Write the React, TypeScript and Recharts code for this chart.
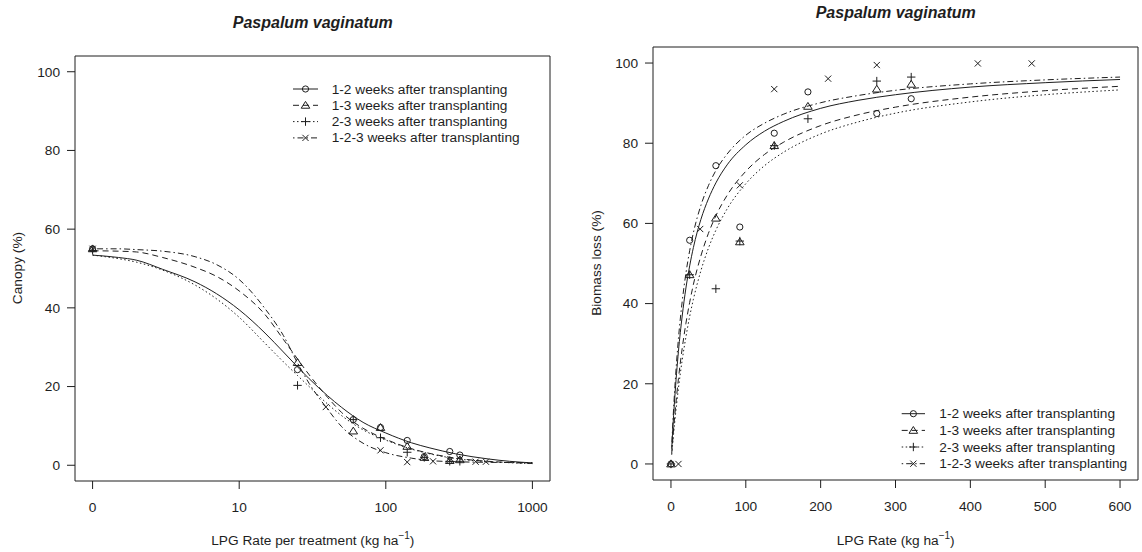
import React from 'react';
import { ComposedChart, Line, Scatter, XAxis, YAxis, ReferenceArea } from 'recharts';

// ---------- Left panel: Canopy (%) vs LPG rate per treatment (log axis, 0 drawn at the break) ----------
const leftDoses123 = [0, 25, 60, 92, 140, 183, 273, 320]; // shared by 1-2, 1-3, 2-3
const leftDosesCum = [0, 39, 92, 140, 210, 273, 410, 482]; // 1-2-3
const canopy12 = [55.0, 24.3, 11.6, 9.6, 6.3, 2.2, 3.5, 2.6];
const canopy13 = [55.0, 26.1, 8.7, 9.6, 4.8, 2.0, 1.2, 1.4];
const canopy23 = [54.6, 20.3, 11.6, 7.0, 3.3, 2.0, 1.0, 1.0];
const canopy123 = [55.0, 14.8, 3.8, 0.8, 1.0, 1.2, 0.9, 0.9];

const leftCurveDoses = [0, 1.5, 2, 3, 5, 7, 10, 15, 20, 25, 30, 40, 50, 70, 100, 150, 200, 300, 500, 700, 1000];
const canopyFit12 = [53.4, 52.8, 52.1, 49.8, 46.6, 43.6, 39.5, 33.6, 28.8, 25.0, 22.0, 17.7, 14.7, 10.9, 8.2, 5.7, 4.4, 2.9, 1.6, 1.0, 0.6];
const canopyFit13 = [54.5, 54.4, 54.2, 52.8, 50.3, 48.0, 44.3, 38.3, 32.0, 27.0, 23.0, 17.3, 13.4, 9.4, 6.6, 4.2, 3.0, 1.8, 1.0, 0.7, 0.45];
const canopyFit23 = [53.4, 52.5, 51.6, 49.6, 45.8, 42.3, 37.6, 31.0, 26.3, 22.8, 20.0, 15.6, 12.6, 9.0, 6.4, 4.1, 2.9, 1.7, 0.9, 0.65, 0.4];
const canopyFit123 = [55.0, 55.0, 54.8, 54.4, 53.0, 51.0, 47.2, 39.8, 33.0, 26.0, 20.8, 14.3, 9.8, 5.6, 3.2, 1.8, 1.2, 0.9, 0.75, 0.7, 0.7];

const leftTicks = [1, 10, 100, 1000];
const leftTickLabels = ['0', '10', '100', '1000'];

// ---------- Right panel: Biomass loss (%) vs LPG rate ----------
const rightDoses = [0, 25, 60, 92, 138, 183, 275, 321];
const rightDosesCum = [10, 39, 92, 138, 210, 275, 410, 482];
const biomass12 = [0, 55.8, 74.4, 59.1, 82.5, 92.8, 87.4, 91.1];
const biomass13 = [0, 47.2, 61.3, 55.4, 79.4, 89.2, 93.5, 94.7];
const biomass23 = [0, 47.2, 43.7, 55.6, 79.4, 86.1, 95.5, 96.5];
const biomass123 = [0, 58.6, 69.5, 93.5, 96.1, 99.5, 99.9, 99.9];

const rightCurveDoses = [1, 3, 5, 10, 15, 20, 25, 30, 40, 50, 60, 75, 100, 125, 150, 200, 250, 300, 400, 500, 600];
const biomassFit12 = [3.8, 10.5, 16.3, 28.1, 36.9, 43.9, 49.4, 54.0, 61.0, 66.1, 70.1, 74.6, 79.6, 83.0, 85.4, 88.7, 90.7, 92.1, 94.0, 95.1, 95.9];
const biomassFit13 = [2.6, 7.5, 11.9, 21.3, 28.8, 35.1, 40.3, 44.8, 51.9, 57.5, 61.9, 67.0, 73.0, 77.2, 80.2, 84.4, 87.1, 89.0, 91.5, 93.1, 94.2];
const biomassFit23 = [2.3, 6.5, 10.4, 18.9, 25.9, 31.7, 36.8, 41.1, 48.2, 53.8, 58.3, 63.6, 69.9, 74.4, 77.7, 82.3, 85.3, 87.5, 90.3, 92.1, 93.3];
const biomassFit123 = [4.3, 12.0, 18.5, 31.3, 40.5, 47.6, 53.2, 57.7, 64.5, 69.4, 73.2, 77.3, 82.0, 85.0, 87.2, 90.1, 91.9, 93.2, 94.8, 95.8, 96.5];

const rightTicks = [0, 100, 200, 300, 400, 500, 600];
const yTicks = [0, 20, 40, 60, 80, 100];

const seriesNames = [
  '1-2 weeks after transplanting',
  '1-3 weeks after transplanting',
  '2-3 weeks after transplanting',
  '1-2-3 weeks after transplanting',
];

// ---------- styles ----------
const FONT = '"Liberation Sans", Arial, Helvetica, sans-serif';
const INK = '#1e1e1e';
const FS = 13.7;
type MarkKind = 'circle' | 'triangle' | 'plus' | 'cross';
const marks: MarkKind[] = ['circle', 'triangle', 'plus', 'cross'];
const dashes: (string | undefined)[] = [undefined, '6 4', '1.5 2.5', '1.5 3 6 3'];

const Y_DOMAIN: [number, number] = [-4, 104];
const LEFT_X_DOMAIN: [number, number] = [0.7586, 1318.3];
const RIGHT_X_DOMAIN: [number, number] = [-24, 624];

function Mark({ kind, cx, cy }: { kind: MarkKind; cx?: number; cy?: number }) {
  if (cx == null || cy == null || isNaN(cx) || isNaN(cy)) return null;
  if (kind === 'circle') return <circle cx={cx} cy={cy} r={3.1} fill="none" stroke={INK} strokeWidth={1} />;
  if (kind === 'triangle') {
    const h = 3.9;
    return (
      <polygon
        points={`${cx},${cy - h} ${cx + h * 1.1},${cy + h * 0.75} ${cx - h * 1.1},${cy + h * 0.75}`}
        fill="none"
        stroke={INK}
        strokeWidth={1}
      />
    );
  }
  if (kind === 'plus') {
    const s = 4.2;
    return <path d={`M${cx - s},${cy}H${cx + s}M${cx},${cy - s}V${cy + s}`} stroke={INK} strokeWidth={1} fill="none" />;
  }
  const s = 3.1;
  return (
    <path
      d={`M${cx - s},${cy - s}L${cx + s},${cy + s}M${cx - s},${cy + s}L${cx + s},${cy - s}`}
      stroke={INK}
      strokeWidth={1}
      fill="none"
    />
  );
}

const toPts = (xs: number[], ys: number[], zeroAsOne = false) =>
  xs.map((x, i) => ({ x: zeroAsOne && x === 0 ? 1 : x, y: ys[i] }));

const leftPoints = [
  toPts(leftDoses123, canopy12, true),
  toPts(leftDoses123, canopy13, true),
  toPts(leftDoses123, canopy23, true),
  toPts(leftDosesCum, canopy123, true),
];
const leftCurves = [canopyFit12, canopyFit13, canopyFit23, canopyFit123].map((ys) => toPts(leftCurveDoses, ys, true));

const rightPoints = [
  toPts(rightDoses, biomass12),
  toPts(rightDoses, biomass13),
  toPts(rightDoses, biomass23),
  toPts(rightDosesCum, biomass123),
];
const rightCurves = [biomassFit12, biomassFit13, biomassFit23, biomassFit123].map((ys) => toPts(rightCurveDoses, ys));

const tickStyle = { fontSize: FS, fill: INK, fontFamily: FONT };

function renderSeries(curves: { x: number; y: number }[][], points: { x: number; y: number }[][], prefix: string) {
  const out: React.ReactNode[] = [];
  curves.forEach((c, i) => {
    out.push(
      <Line
        key={`${prefix}-l${i}`}
        data={c}
        dataKey="y"
        type="monotone"
        stroke={INK}
        strokeWidth={1}
        strokeDasharray={dashes[i]}
        dot={false}
        activeDot={false}
        isAnimationActive={false}
      />
    );
  });
  points.forEach((p, i) => {
    out.push(
      <Scatter
        key={`${prefix}-s${i}`}
        data={p}
        dataKey="y"
        isAnimationActive={false}
        shape={(props: any) => <Mark kind={marks[i]} cx={props.cx} cy={props.cy} />}
      />
    );
  });
  return out;
}

function Legend({ rows, x0, x1, tx }: { rows: number[]; x0: number; x1: number; tx: number }) {
  return (
    <g>
      {seriesNames.map((n, i) => (
        <g key={n}>
          <line x1={x0} x2={x1} y1={rows[i]} y2={rows[i]} stroke={INK} strokeWidth={1} strokeDasharray={dashes[i]} />
          <Mark kind={marks[i]} cx={(x0 + x1) / 2} cy={rows[i]} />
          <text x={tx} y={rows[i]} dominantBaseline="central" fontSize={FS} fontFamily={FONT} fill={INK}>
            {n}
          </text>
        </g>
      ))}
    </g>
  );
}

export default function App() {
  return (
    <div style={{ position: 'absolute', left: 0, top: 0, width: 1142, height: 552, background: '#fff', overflow: 'hidden' }}>
      <div style={{ position: 'absolute', left: 0, top: 0 }}>
        <ComposedChart width={560} height={552} margin={{ top: 56, right: 10, left: 0, bottom: 0 }}>
          <XAxis
            dataKey="x"
            type="number"
            scale="log"
            domain={LEFT_X_DOMAIN}
            allowDataOverflow
            ticks={leftTicks}
            tickFormatter={(v: number) => leftTickLabels[leftTicks.indexOf(v)] ?? String(v)}
            height={71}
            axisLine={false}
            tickLine={{ stroke: INK }}
            tickSize={8}
            tickMargin={13}
            tick={tickStyle}
            interval={0}
          />
          <YAxis
            dataKey="y"
            type="number"
            domain={Y_DOMAIN}
            allowDataOverflow
            ticks={yTicks}
            width={75}
            axisLine={false}
            tickLine={{ stroke: INK }}
            tickSize={8}
            tickMargin={7}
            tick={tickStyle}
            interval={0}
          />
          <ReferenceArea
            x1={LEFT_X_DOMAIN[0]}
            x2={LEFT_X_DOMAIN[1]}
            y1={Y_DOMAIN[0]}
            y2={Y_DOMAIN[1]}
            fill="none"
            stroke={INK}
            strokeWidth={1}
            ifOverflow="visible"
          />
          {renderSeries(leftCurves, leftPoints, 'L')}
        </ComposedChart>
      </div>
      <div style={{ position: 'absolute', left: 560, top: 0 }}>
        <ComposedChart width={582} height={552} margin={{ top: 47, right: 4, left: 0, bottom: 0 }}>
          <XAxis
            dataKey="x"
            type="number"
            domain={RIGHT_X_DOMAIN}
            allowDataOverflow
            ticks={rightTicks}
            height={72}
            axisLine={false}
            tickLine={{ stroke: INK }}
            tickSize={8}
            tickMargin={13}
            tick={tickStyle}
            interval={0}
          />
          <YAxis
            dataKey="y"
            type="number"
            domain={Y_DOMAIN}
            allowDataOverflow
            ticks={yTicks}
            width={93}
            axisLine={false}
            tickLine={{ stroke: INK }}
            tickSize={8}
            tickMargin={7}
            tick={tickStyle}
            interval={0}
          />
          <ReferenceArea
            x1={RIGHT_X_DOMAIN[0]}
            x2={RIGHT_X_DOMAIN[1]}
            y1={Y_DOMAIN[0]}
            y2={Y_DOMAIN[1]}
            fill="none"
            stroke={INK}
            strokeWidth={1}
            ifOverflow="visible"
          />
          {renderSeries(rightCurves, rightPoints, 'R')}
        </ComposedChart>
      </div>
      <svg
        width={1142}
        height={552}
        style={{ position: 'absolute', left: 0, top: 0, pointerEvents: 'none' }}
        fontFamily={FONT}
      >
        <text x={312.8} y={22} textAnchor="middle" dominantBaseline="central" fontSize={16} fontWeight="bold" fontStyle="italic" fill={INK}>
          Paspalum vaginatum
        </text>
        <text x={895.7} y={12} textAnchor="middle" dominantBaseline="central" fontSize={16} fontWeight="bold" fontStyle="italic" fill={INK}>
          Paspalum vaginatum
        </text>
        <text transform="translate(17,268) rotate(-90)" textAnchor="middle" dominantBaseline="central" fontSize={FS} fill={INK}>
          Canopy (%)
        </text>
        <text transform="translate(596,263) rotate(-90)" textAnchor="middle" dominantBaseline="central" fontSize={FS} fill={INK}>
          Biomass loss (%)
        </text>
        <text x={312.8} y={545} textAnchor="middle" fontSize={FS} fill={INK}>
          LPG Rate per treatment (kg ha<tspan dy={-6} fontSize={10}>−1</tspan><tspan dy={6}>)</tspan>
        </text>
        <text x={895.7} y={545} textAnchor="middle" fontSize={FS} fill={INK}>
          LPG Rate (kg ha<tspan dy={-6} fontSize={10}>−1</tspan><tspan dy={6}>)</tspan>
        </text>
        <Legend rows={[89, 105.3, 121.6, 137.9]} x0={293} x1={318} tx={331.7} />
        <Legend rows={[413.7, 430.4, 447.0, 463.7]} x0={901.7} x1={925} tx={939.3} />
      </svg>
    </div>
  );
}
